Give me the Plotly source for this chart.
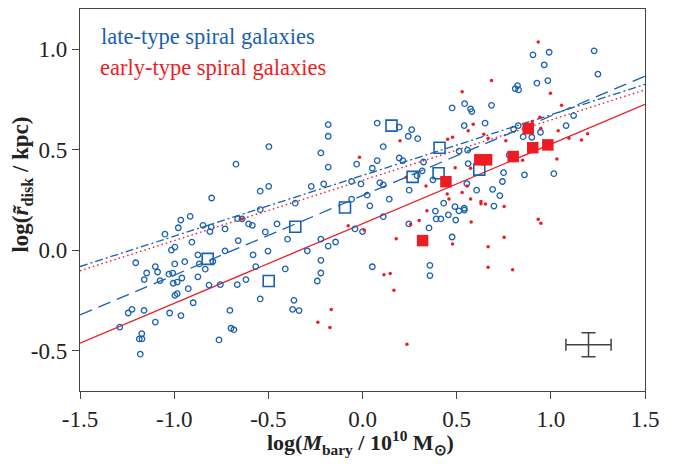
import plotly.graph_objects as go

# ---------------- data ----------------
late_x = [-0.497,-0.672,-0.543,-0.498,-0.801,-0.915,-0.965,-0.978,-0.847,-0.803,-0.810,-0.730,-0.663,-0.639,-0.605,-0.585,
          -0.543,-0.516,-1.049,-0.906,-0.996,-1.015,-0.660,-0.730,-0.874,-0.867,-0.944,-0.997,-1.204,-1.100,-1.146,-1.088,
          -1.028,-1.008,-0.959,-0.874,-0.835,-0.581,-0.567,-0.502,-1.159,-1.075,-1.005,-0.984,-0.925,-0.996,-0.984,-0.899,
          -0.815,-0.755,-0.665,-0.619,-0.543,-1.160,-1.244,-1.224,-1.100,-1.024,-0.964,-0.704,-1.289,-1.172,-1.185,-1.171,
          -1.180,-0.762,-0.698,-0.683,0.476,-0.182,-0.182,0.078,0.195,0.261,0.243,0.293,-0.221,0.110,-0.182,-0.031,
          0.078,0.195,0.214,0.052,0.324,-0.272,-0.206,-0.058,-0.008,0.092,0.110,0.317,0.290,0.374,0.513,0.248,
          0.025,-0.058,0.142,-0.357,0.039,0.431,0.491,0.905,0.991,1.230,0.965,1.250,0.926,0.984,0.811,0.823,
          0.829,0.542,0.574,0.581,0.685,0.540,0.651,1.081,1.121,0.558,0.802,0.827,0.853,0.899,0.945,0.561,
          0.749,0.860,1.016,0.554,0.606,0.743,0.691,0.729,0.698,0.540,0.779,0.110,0.246,0.353,0.387,0.391,
          0.416,0.456,0.495,0.512,0.541,0.476,-0.040,0.000,-0.454,-0.398,-0.221,-0.182,-0.143,-0.293,-0.221,-0.410,
          -0.221,-0.240,0.052,0.358,0.358,-0.364,-0.371,-0.337,-0.795]
late_y = [0.515,0.428,0.294,0.318,0.260,0.169,0.150,0.112,0.124,0.116,0.093,0.106,0.157,0.156,0.131,0.124,
          0.202,0.091,0.080,0.040,0.016,0.001,0.048,-0.003,-0.023,-0.068,-0.057,-0.068,-0.062,-0.081,-0.113,-0.108,
          -0.119,-0.114,-0.138,-0.132,-0.094,-0.023,-0.081,-0.004,-0.146,-0.151,-0.164,-0.158,-0.191,-0.224,-0.216,-0.261,
          -0.173,-0.171,-0.171,-0.146,-0.242,-0.299,-0.312,-0.294,-0.357,-0.312,-0.325,-0.299,-0.382,-0.415,-0.441,-0.441,
          -0.517,-0.446,-0.388,-0.395,0.708,0.625,0.567,0.632,0.612,0.600,0.567,0.555,0.484,0.515,0.414,0.428,
          0.446,0.459,0.446,0.408,0.439,0.318,0.330,0.343,0.330,0.336,0.325,0.395,0.371,0.350,0.493,0.299,
          0.274,0.254,0.254,0.234,0.221,0.234,0.217,0.972,0.985,0.992,0.922,0.876,0.831,0.844,0.804,0.819,
          0.798,0.729,0.703,0.690,0.721,0.620,0.632,0.620,0.670,0.498,0.602,0.620,0.565,0.562,0.587,0.431,
          0.386,0.375,0.381,0.331,0.299,0.342,0.303,0.272,0.220,0.209,0.473,0.167,0.131,0.111,0.195,0.156,
          0.156,0.176,0.150,0.196,0.200,0.066,0.106,0.093,0.131,0.055,0.055,0.021,0.041,-0.003,-0.050,-0.093,
          -0.113,-0.153,-0.082,-0.075,-0.126,-0.249,-0.294,-0.300,-0.056]

early_x = [0.199,-0.016,0.452,0.478,0.232,0.337,0.492,0.450,0.459,0.933,0.685,0.529,0.998,1.057,0.588,0.561,
           0.644,0.667,0.761,0.901,0.942,0.947,1.039,1.096,1.163,1.195,0.850,1.032,0.574,0.529,0.556,0.574,
           0.629,0.629,0.653,0.752,0.577,0.933,0.947,0.752,0.667,0.667,0.797,-0.076,0.009,0.255,0.301,0.342,
           0.179,0.478,0.114,0.147,0.167,-0.166,-0.237,-0.173,0.236,-0.639]
early_y = [0.545,0.463,0.552,0.562,0.363,0.320,0.410,0.280,0.255,1.036,0.844,0.788,0.781,0.721,0.627,0.595,
           0.577,0.557,0.545,0.640,0.662,0.607,0.594,0.557,0.549,0.580,0.448,0.454,0.408,0.287,0.320,0.255,
           0.243,0.231,0.230,0.218,0.140,0.154,0.134,0.065,0.018,-0.084,-0.097,0.122,0.101,0.128,0.148,0.197,
           0.057,0.031,-0.122,-0.116,-0.199,-0.295,-0.358,-0.384,-0.468,0.156]

late_bin_x = [-0.822,-0.498,-0.357,-0.093,0.154,0.266,0.404,0.409,0.620]
late_bin_y = [-0.043,-0.153,0.117,0.213,0.620,0.365,0.383,0.510,0.401]

early_bin_x = [0.319,0.443,0.623,0.659,0.800,0.880,0.904,0.984]
early_bin_y = [0.048,0.341,0.450,0.450,0.466,0.605,0.510,0.524]

# linear fits: (slope, intercept)
fit_late_bins = (0.396, 0.272)     # blue long dash
fit_late_all = (0.302, 0.372)      # blue dash-dot
fit_early_bins = (0.396, 0.132)    # red solid
fit_early_all = (0.300, 0.348)     # red dotted
fit_xrange = [-1.5, 1.5]

# typical error bar
err_x, err_y = [1.2], [-0.47]
err_dx, err_dy = 0.12, 0.06

x_ticks = [-1.5, -1.0, -0.5, 0.0, 0.5, 1.0, 1.5]
x_tick_labels = ["-1.5", "-1.0", "-0.5", "0.0", "0.5", "1.0", "1.5"]
y_ticks = [-0.5, 0.0, 0.5, 1.0]
y_tick_labels = ["-0.5", "0.0", "0.5", "1.0"]

BLUE = "#1a60b0"
RED = "#ed1c24"
FONT = "Liberation Serif"

def line_y(fit):
    s, b = fit
    return [s * x + b for x in fit_xrange]

fig = go.Figure()

fig.add_trace(go.Scatter(x=fit_xrange, y=line_y(fit_early_all), mode="lines",
                         line=dict(color=RED, width=1.4, dash="1.5px,3px")))
fig.add_trace(go.Scatter(x=fit_xrange, y=line_y(fit_late_all), mode="lines",
                         line=dict(color=BLUE, width=1.3, dash="8px,3px,2px,3px")))
fig.add_trace(go.Scatter(x=fit_xrange, y=line_y(fit_late_bins), mode="lines",
                         line=dict(color=BLUE, width=1.3, dash="13px,7px")))
fig.add_trace(go.Scatter(x=fit_xrange, y=line_y(fit_early_bins), mode="lines",
                         line=dict(color=RED, width=1.3)))

fig.add_trace(go.Scatter(x=late_x, y=late_y, mode="markers",
                         marker=dict(symbol="circle-open", size=5.5, color=BLUE, line=dict(width=1.3, color=BLUE))))
fig.add_trace(go.Scatter(x=early_x, y=early_y, mode="markers",
                         marker=dict(symbol="circle", size=3.5, color=RED, line=dict(width=0))))
fig.add_trace(go.Scatter(x=late_bin_x, y=late_bin_y, mode="markers",
                         marker=dict(symbol="square-open", size=11, color=BLUE, line=dict(width=1.6, color=BLUE))))
fig.add_trace(go.Scatter(x=early_bin_x, y=early_bin_y, mode="markers",
                         marker=dict(symbol="square", size=11.5, color=RED, line=dict(width=0))))

fig.add_trace(go.Scatter(x=err_x, y=err_y, mode="markers",
                         marker=dict(size=0.1, color="#444"),
                         error_x=dict(type="constant", value=err_dx, color="#444", thickness=1.5, width=6),
                         error_y=dict(type="constant", value=err_dy, color="#444", thickness=1.5, width=7)))

fig.update_layout(
    width=674, height=464,
    margin=dict(l=72, r=37, t=1, b=81),
    paper_bgcolor="white", plot_bgcolor="white",
    showlegend=False,
    font=dict(family=FONT, size=23, color="#222"),
    xaxis=dict(range=[-1.5, 1.5], tickvals=x_ticks, ticktext=x_tick_labels,
               showline=True, linecolor="#444", linewidth=1.3, mirror=True,
               ticks="outside", ticklen=7, tickwidth=1.2, tickcolor="#444",
               showgrid=False, zeroline=False, tickfont=dict(family=FONT, size=23, color="#222")),
    yaxis=dict(range=[-0.7, 1.2], tickvals=y_ticks, ticktext=y_tick_labels,
               showline=True, linecolor="#444", linewidth=1.3, mirror=True,
               ticks="outside", ticklen=7, tickwidth=1.2, tickcolor="#444",
               showgrid=False, zeroline=False, tickfont=dict(family=FONT, size=23, color="#222")),
    annotations=[
        dict(text="late-type spiral galaxies", xref="paper", yref="paper", x=0.033, y=0.9275,
             xanchor="left", yanchor="middle", showarrow=False, font=dict(family=FONT, size=22.5, color=BLUE)),
        dict(text="early-type spiral galaxies", xref="paper", yref="paper", x=0.031, y=0.848,
             xanchor="left", yanchor="middle", showarrow=False, font=dict(family=FONT, size=22.5, color=RED)),
        dict(text="<b>log(<i>M</i><sub>bary</sub> / 10<sup>10</sup> M<sub>⊙</sub>)</b>",
             xref="paper", yref="paper", x=0.496, y=-0.134, xanchor="center", yanchor="middle",
             showarrow=False, font=dict(family=FONT, size=22, color="#222")),
        dict(text="<b>log(<i>r\u0303</i><sub>disk</sub> / kpc)</b>",
             xref="paper", yref="paper", x=-0.103, y=0.54, xanchor="center", yanchor="middle",
             textangle=-90, showarrow=False, font=dict(family=FONT, size=23, color="#222")),
    ],
)

fig.write_html("out.html")
